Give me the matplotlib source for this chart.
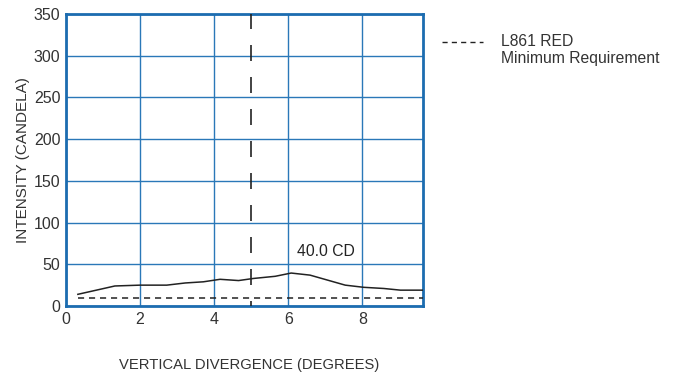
import matplotlib
matplotlib.use("Agg")
import matplotlib.pyplot as plt

plt.rcParams['font.family'] = ['Liberation Sans', 'DejaVu Sans']

# Data
x_deg = [0.32, 1.32, 2.0, 2.72, 3.22, 3.71, 4.16, 4.66, 5.06, 5.65, 6.08, 6.59, 7.54, 8.04, 8.58, 9.03, 9.64]
intensity = [14, 24, 25, 25, 27.6, 29, 32, 30.5, 33, 35.6, 39.5, 37, 25, 22.4, 21, 19, 19]
min_x = [0.32, 9.64]
min_req = [9, 9]
ref_x = 5
xticks = [0, 2, 4, 6, 8]
yticks = [0, 50, 100, 150, 200, 250, 300, 350]
peak_label = "40.0 CD"

blue = '#1c6cb0'
grid_blue = '#2a78b8'
fig = plt.figure(figsize=(6.8, 3.75), dpi=100)
ax = fig.add_axes([66/680, 1-306/375, (423-66)/680, (306-14)/375])

ax.plot(x_deg, intensity, color='#222222', lw=1.1, zorder=3)
ax.plot(min_x, min_req, color='#222222', lw=1.1, linestyle=(0, (4, 3.2)), zorder=3)
ax.plot([ref_x, ref_x], [351, 0], color='#222222', lw=1.2, linestyle=(0, (9.6, 9.6)), zorder=3)
ax.text(6.23, 65, peak_label, fontsize=11.3, color='#222222', va='center', ha='left')

ax.set_xlim(0, 9.64)
ax.set_ylim(0, 350)
ax.set_xticks(xticks)
ax.set_yticks(yticks)
ax.tick_params(length=0, labelsize=11.5, colors='#333333', pad=4)
ax.grid(True, color=grid_blue, lw=1.0)
for s in ax.spines.values():
    s.set_color(blue)
    s.set_linewidth(2.0)

ax.set_ylabel("INTENSITY (CANDELA)", fontsize=11, color='#333333', labelpad=3)
fig.text(249/680, 1-365/375, "VERTICAL DIVERGENCE (DEGREES)", fontsize=10.6, color='#333333', ha='center', va='center')

fig.add_artist(plt.Line2D([442/680, 483/680], [1-42/375, 1-42/375], color='#222222', lw=1.0, linestyle=(0, (3.7, 3.0))))
fig.text(501/680, 1-42/375, "L861 RED", fontsize=11.3, color='#333333', va='center', ha='left')
fig.text(501/680, 1-58/375, "Minimum Requirement", fontsize=11.3, color='#333333', va='center', ha='left')

fig.savefig("out.png", dpi=100)
